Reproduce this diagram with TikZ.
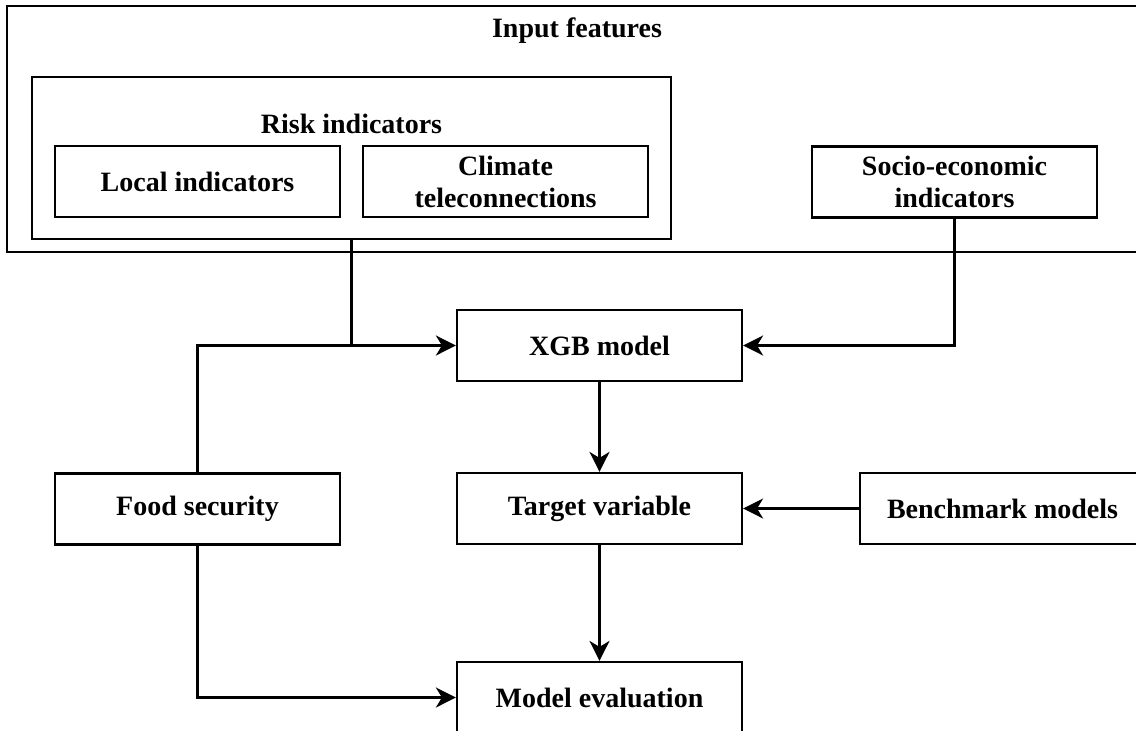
\documentclass[tikz,border=0pt]{standalone}
\usepackage{fontspec}
\setmainfont{Liberation Serif}
\usetikzlibrary{arrows.meta}
\tikzset{
  boxnode/.style={draw, line width=2.2pt, minimum width=285pt, minimum height=71pt, inner sep=0pt, align=center, font=\bfseries\fontsize{28}{32}\selectfont},
  grouplabel/.style={inner sep=0pt, font=\bfseries\fontsize{28}{32}\selectfont},
  groupbox/.style={draw, line width=2.2pt, inner sep=0pt},
  conn/.style={line width=2.2pt},
  arr/.style={line width=2.2pt, -{Stealth[length=20pt,width=20pt,inset=6pt]}}
}
\begin{document}
\begin{tikzpicture}[x=1pt,y=-1pt]
\clip (0,0) rectangle (1136,731);
% groups
\node[groupbox, minimum width=1140pt, minimum height=246pt] (inputs) at (577,129) {};
\node[grouplabel] (inputslbl) at (577,31) {Input features};
\node[groupbox, minimum width=639pt, minimum height=162pt] (risk) at (351.5,158) {};
\node[grouplabel] (risklbl) at (351.5,124) {Risk indicators};
% boxes
\node[boxnode] (local) at (197.5,181.5) {Local indicators};
\node[boxnode] (climate) at (505.5,181.5) {Climate\\teleconnections};
\node[boxnode] (socio) at (954.5,182) {Socio-economic\\indicators};
\node[boxnode] (xgb) at (599.5,345.5) {XGB model};
\node[boxnode] (target) at (599.5,508.5) {Target variable};
\node[boxnode] (bench) at (1002.5,508.5) {Benchmark models};
\node[boxnode] (food) at (197.5,509) {Food security};
\node[boxnode] (eval) at (599.5,697.5) {Model evaluation};
% connectors
\draw[conn] (risk.south) -- (risk.south |- xgb.west);
\draw[arr] (food.north) |- (xgb.west);
\draw[arr] (socio.south) |- (xgb.east);
\draw[arr] (xgb.south) -- (target.north);
\draw[arr] (bench.west) -- (target.east);
\draw[arr] (target.south) -- (eval.north);
\draw[arr] (food.south) |- (eval.west);
\end{tikzpicture}
\end{document}
